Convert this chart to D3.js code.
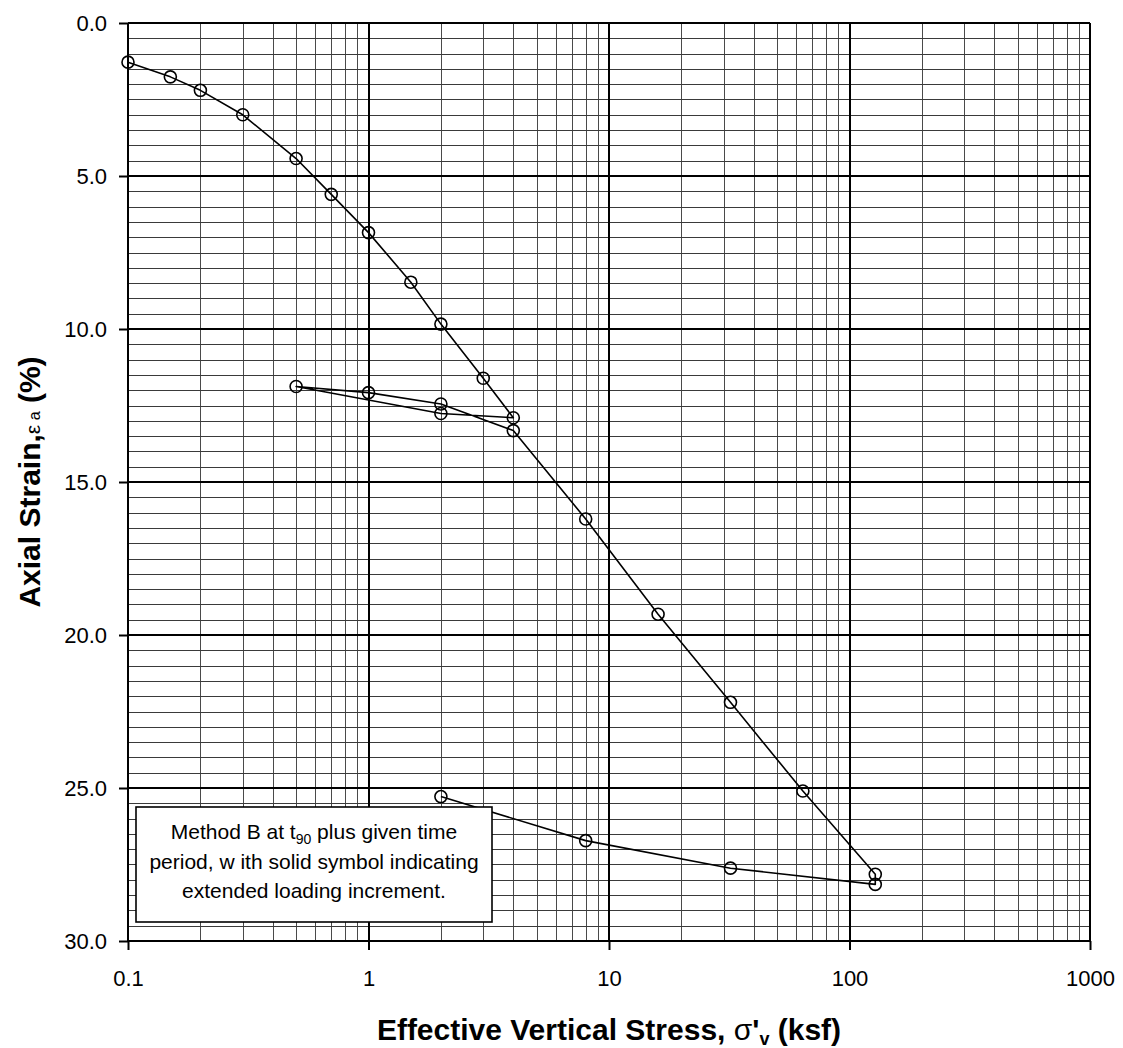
<!DOCTYPE html>
<html>
<head>
<meta charset="utf-8">
<script src="https://cdn.jsdelivr.net/npm/d3@7.9.0/dist/d3.min.js"></script>
<style>
  body { margin: 0; background: #fff; }
  svg { display: block; font-family: Arial, "Liberation Sans", sans-serif; }
</style>
</head>
<body>
<div id="chart"></div>
<script>
// test readings, in order of loading / unloading
const stress = [0.1, 0.15, 0.2, 0.3, 0.5, 0.7, 1, 1.5, 2, 3, 4, 2, 0.5, 1, 2, 4, 8, 16, 32, 64, 128, 128, 32, 8, 2];
const strain = [1.28, 1.76, 2.2, 3.0, 4.43, 5.6, 6.85, 8.47, 9.84, 11.61, 12.9, 12.76, 11.88, 12.08, 12.45, 13.32, 16.21, 19.32, 22.2, 25.1, 27.82, 28.15, 27.62, 26.72, 25.28];

const xTicks = [0.1, 1, 10, 100, 1000];
const yTicks = [0, 5, 10, 15, 20, 25, 30];
const noteLines = ['Method B at t|90| plus given time', 'period, w ith solid symbol indicating', 'extended loading increment.'];

const width = 1123;
const height = 1048;
const margin = { top: 23, right: 33, bottom: 107, left: 128 };

const svg = d3.select('#chart')
    .append('svg')
    .attr('width', width)
    .attr('height', height);

const x = d3.scaleLog()
    .domain([0.1, 1000])
    .range([margin.left, width - margin.right]);

const y = d3.scaleLinear()
    .domain([0, 30])
    .range([margin.top, height - margin.bottom]);

// minor grid
const minorX = [];
for (let d = -1; d <= 2; d++) {
    for (let k = 2; k <= 9; k++) minorX.push(k * Math.pow(10, d));
}
const minorY = d3.range(0.5, 30, 0.5).filter(v => v % 5 !== 0);

const grid = svg.append('g').attr('shape-rendering', 'crispEdges');

grid.selectAll('.vminor')
    .data(minorX)
    .enter()
    .append('line')
    .attr('x1', d => Math.round(x(d)) + 0.5)
    .attr('x2', d => Math.round(x(d)) + 0.5)
    .attr('y1', y(0))
    .attr('y2', y(30))
    .attr('stroke', '#4a4a4a')
    .attr('stroke-width', 1);

grid.selectAll('.hminor')
    .data(minorY)
    .enter()
    .append('line')
    .attr('x1', x(0.1))
    .attr('x2', x(1000))
    .attr('y1', d => Math.round(y(d)) + 0.5)
    .attr('y2', d => Math.round(y(d)) + 0.5)
    .attr('stroke', '#3a3a3a')
    .attr('stroke-width', 1);

// major grid
grid.selectAll('.vmajor')
    .data(xTicks)
    .enter()
    .append('line')
    .attr('x1', d => Math.round(x(d)))
    .attr('x2', d => Math.round(x(d)))
    .attr('y1', y(0))
    .attr('y2', y(30))
    .attr('stroke', '#000')
    .attr('stroke-width', 2);

grid.selectAll('.hmajor')
    .data(yTicks)
    .enter()
    .append('line')
    .attr('x1', x(0.1))
    .attr('x2', x(1000))
    .attr('y1', d => Math.round(y(d)))
    .attr('y2', d => Math.round(y(d)))
    .attr('stroke', '#000')
    .attr('stroke-width', 2);

// axes
const yAxis = d3.axisLeft(y)
    .tickValues(yTicks)
    .tickFormat(d3.format('.1f'))
    .tickSize(9)
    .tickPadding(12);

const gy = svg.append('g')
    .attr('transform', `translate(${x(0.1)},0)`)
    .call(yAxis);

const xAxis = d3.axisBottom(x)
    .tickValues(xTicks)
    .tickFormat(d => String(d))
    .tickSize(9)
    .tickPadding(20);

const gx = svg.append('g')
    .attr('transform', `translate(0,${y(30)})`)
    .call(xAxis);

[gx, gy].forEach(g => {
    g.select('.domain').remove();
    g.selectAll('.tick line').attr('stroke', '#000').attr('stroke-width', 2);
    g.selectAll('.tick text')
        .attr('fill', '#000')
        .attr('font-size', '22px')
        .attr('font-family', 'Arial, "Liberation Sans", sans-serif');
});

// data line
const pts = stress.map((s, i) => ({ stress: s, strain: strain[i] }));

svg.append('path')
    .datum(pts)
    .attr('fill', 'none')
    .attr('stroke', '#000')
    .attr('stroke-width', 1.6)
    .attr('stroke-linejoin', 'round')
    .attr('d', d3.line()
        .x(d => x(d.stress))
        .y(d => y(d.strain)));

svg.append('g')
    .selectAll('circle')
    .data(pts)
    .enter()
    .append('circle')
    .attr('cx', d => x(d.stress))
    .attr('cy', d => y(d.strain))
    .attr('r', 6)
    .attr('fill', 'none')
    .attr('stroke', '#000')
    .attr('stroke-width', 1.6);

// note box
const note = svg.append('g');
note.append('rect')
    .attr('x', 136)
    .attr('y', 807)
    .attr('width', 356)
    .attr('height', 115)
    .attr('fill', '#fff')
    .attr('stroke', '#000')
    .attr('stroke-width', 1.6);

noteLines.forEach((line, i) => {
    const t = note.append('text')
        .attr('x', 314)
        .attr('y', 839 + i * 29.5)
        .attr('text-anchor', 'middle')
        .attr('font-size', '21px')
        .attr('fill', '#000');
    line.split('|').forEach((part, j) => {
        const sp = t.append('tspan').text(part);
        if (j === 1) sp.attr('font-size', '14px').attr('dy', 5);
        if (j === 2) sp.attr('dy', -5);
    });
});

// axis titles
const xt = svg.append('text')
    .attr('x', (x(0.1) + x(1000)) / 2)
    .attr('y', 1040)
    .attr('text-anchor', 'middle')
    .attr('font-size', '30px')
    .attr('font-weight', 'bold')
    .attr('fill', '#000');
xt.append('tspan').text('Effective Vertical Stress, ');
xt.append('tspan').attr('font-weight', 'normal').text('σ');
xt.append('tspan').text("'");
xt.append('tspan').attr('font-size', '18px').attr('dy', 5).text('v');
xt.append('tspan').attr('dy', -5).text(' (ksf)');

const yt = svg.append('text')
    .attr('transform', `translate(40,${(y(0) + y(30)) / 2}) rotate(-90)`)
    .attr('text-anchor', 'middle')
    .attr('font-size', '30px')
    .attr('font-weight', 'bold')
    .attr('fill', '#000');
yt.append('tspan').text('Axial Strain,');
yt.append('tspan').attr('font-size', '21px').attr('font-weight', 'normal').text('ε');
yt.append('tspan').attr('font-size', '16px').attr('font-weight', 'normal').text(' a');
yt.append('tspan').text(' (%)');
</script>
</body>
</html>
